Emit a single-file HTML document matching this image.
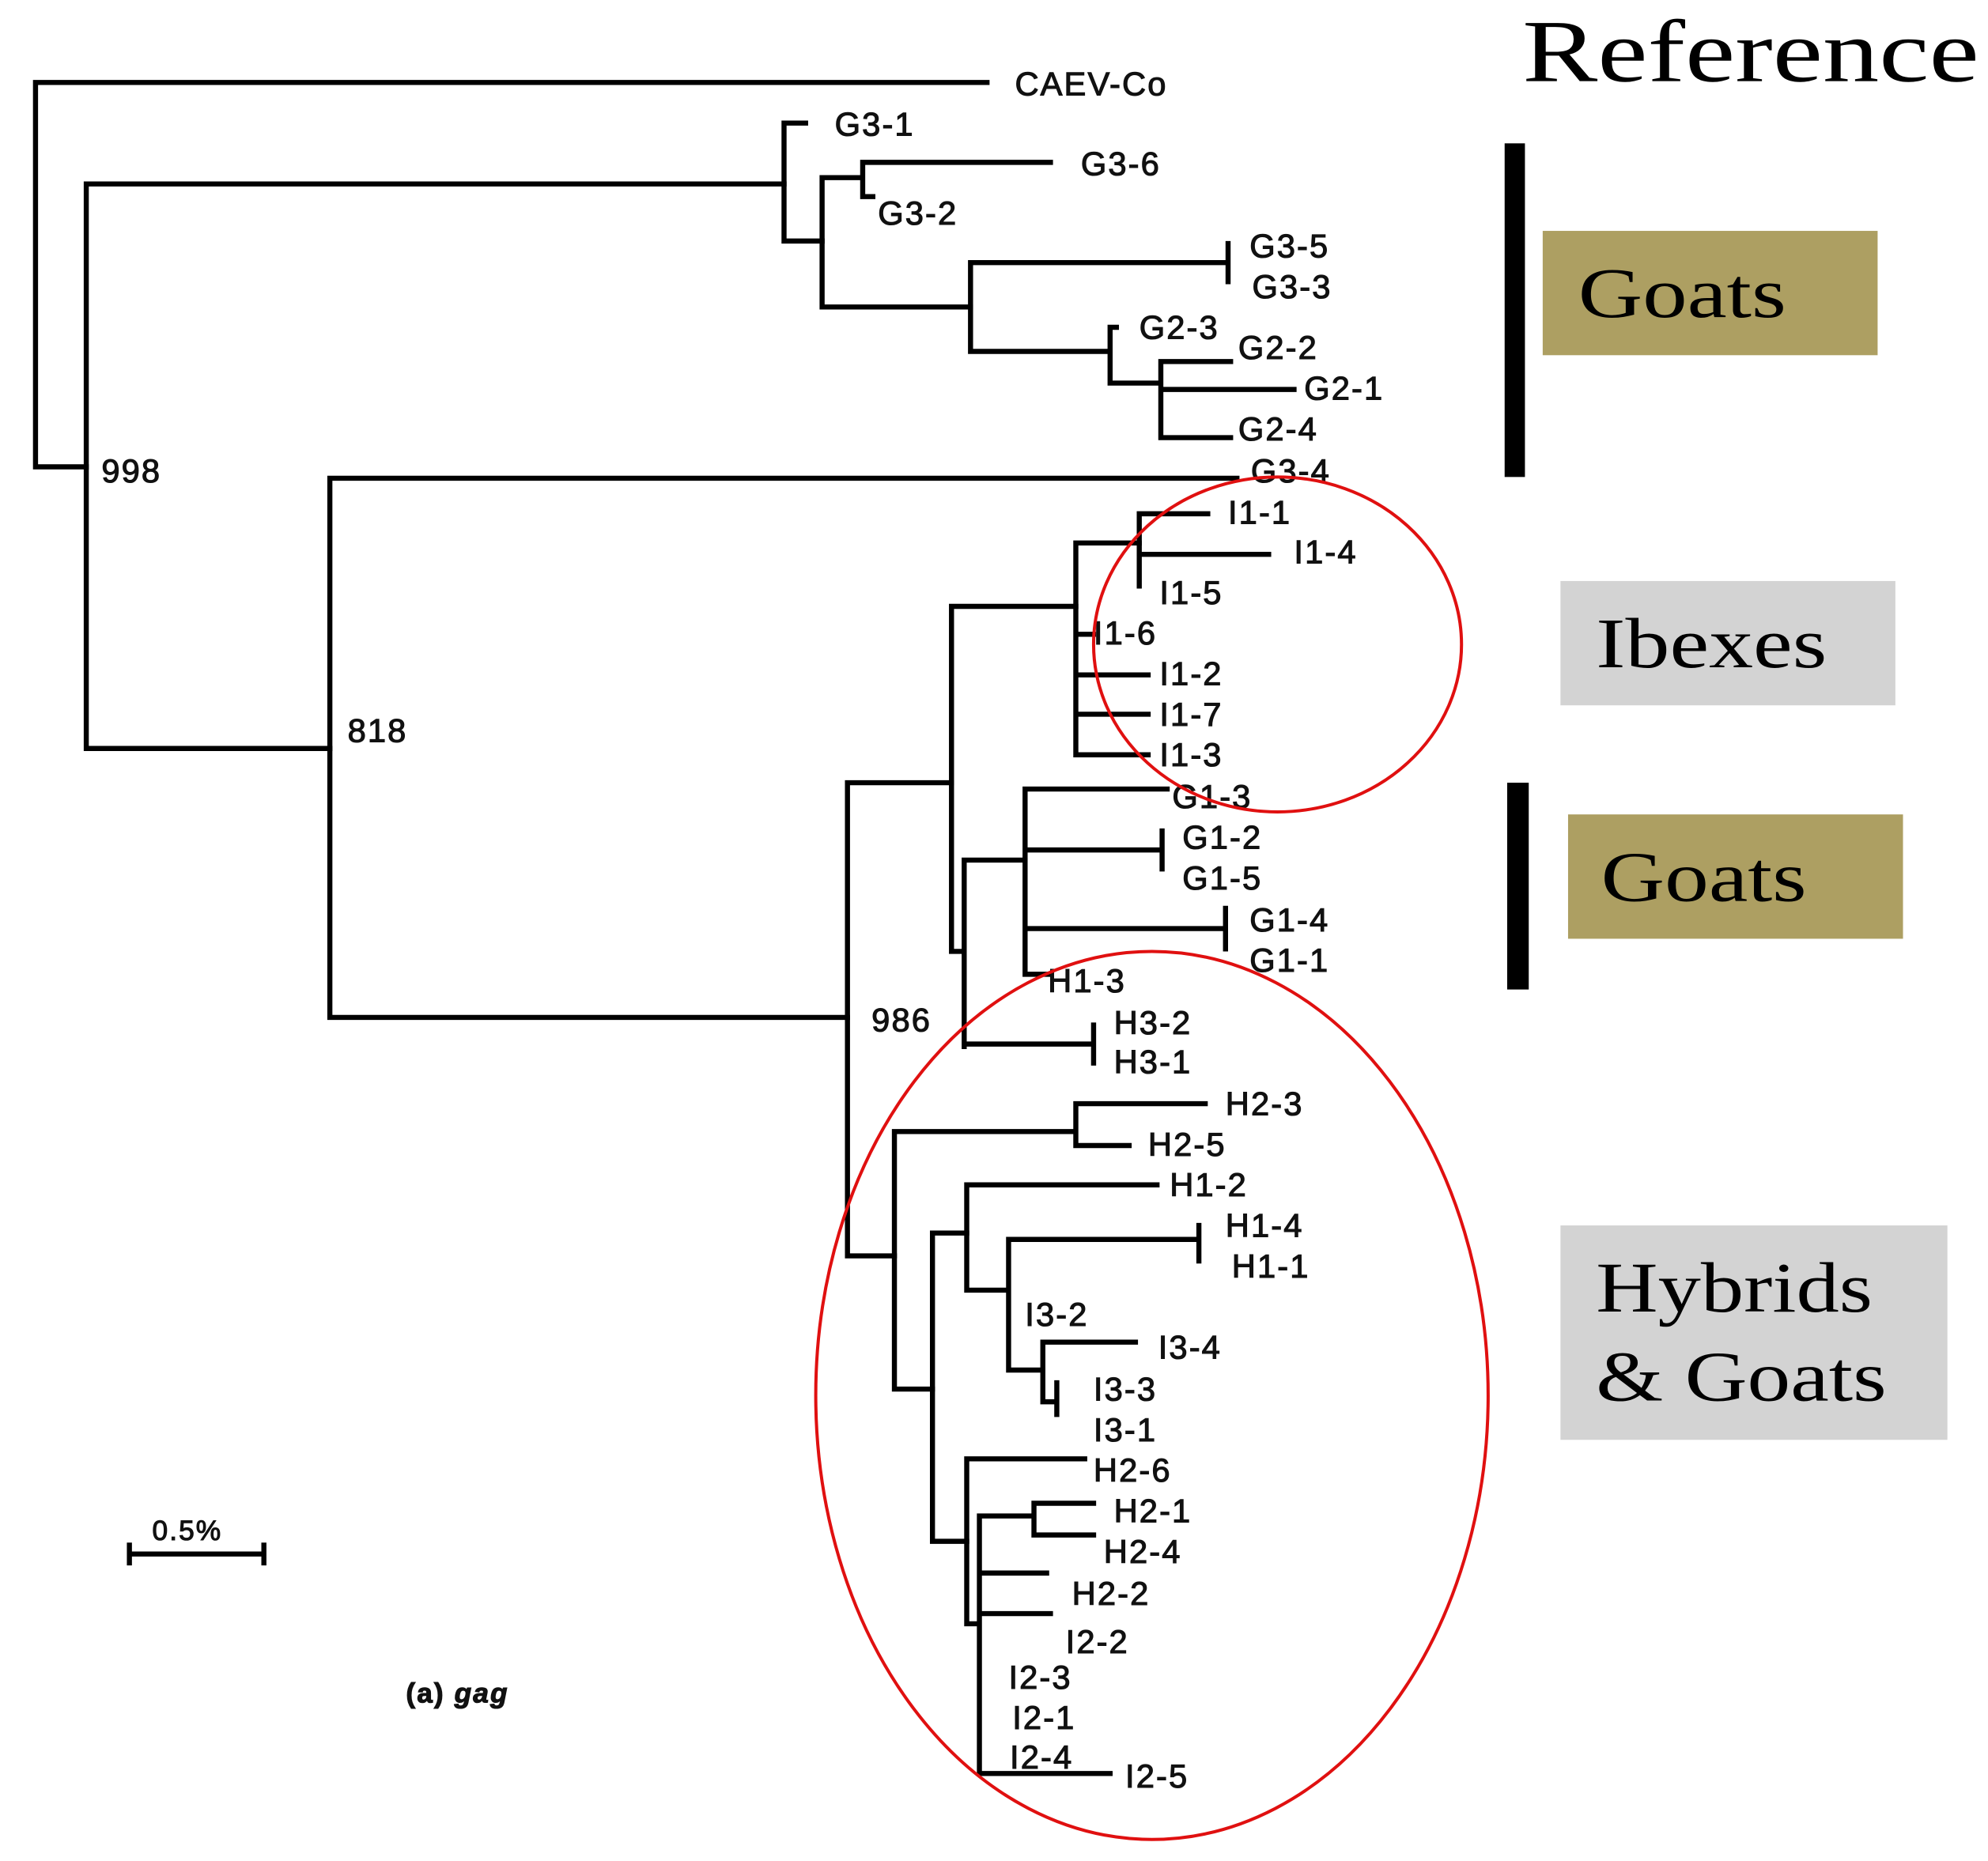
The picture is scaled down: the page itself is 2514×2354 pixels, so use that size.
<!DOCTYPE html>
<html><head><meta charset="utf-8"><style>
html,body{margin:0;padding:0;background:#fff;}
svg{display:block;}
.l{font-family:"Liberation Sans",sans-serif;font-size:26px;letter-spacing:1.3px;fill:#111;stroke:#111;stroke-width:0.7;}
.b{font-family:"Liberation Serif",serif;fill:#000;}
</style></head><body>
<svg width="2514" height="2354" viewBox="0 0 1567 1467" preserveAspectRatio="none" xmlns="http://www.w3.org/2000/svg">
<g stroke="#000" stroke-width="4" fill="none" stroke-linecap="square">
<path d="M28 65V368M28 65H778M28 368H68"/>
<path d="M68 145V590M68 145H618M68 590H260"/>
<path d="M618 97V190M618 97H635M618 190H648"/>
<path d="M648 140V242M648 140H680M680 128V155M680 128H828M680 155H688M648 242H765"/>
<path d="M765 207V277M765 207H968M968 192V222M765 277H875"/>
<path d="M875 258V302M875 258H880M875 302H915M915 285V345M915 285H970M915 307H1020M915 345H970"/>
<path d="M260 377V802M260 377H975M260 802H668"/>
<path d="M668 617V990M668 617H750M668 990H705"/>
<path d="M750 478V750M750 478H848M750 750H760M760 678V825M760 678H808M760 823H862M862 808V838"/>
<path d="M808 622V768M808 622H920M808 670H916M916 655V685M808 732H966M966 716V748M808 768H828"/>
<path d="M848 428V595M848 428H898M848 500H862M848 532H905M848 563H905M848 595H905"/>
<path d="M898 405V462M898 405H952M898 437H1000"/>
<path d="M705 892V1095M705 892H848M848 870V903M848 870H950M848 903H890M705 1095H735"/>
<path d="M735 972V1215M735 972H762M735 1215H762"/>
<path d="M762 934V1017M762 934H912M762 1017H795M795 977V1080M795 977H945M945 966V994M795 1080H822"/>
<path d="M822 1058V1105M822 1058H895M822 1105H833M833 1090V1115"/>
<path d="M762 1150V1280M762 1150H855M762 1280H772M772 1240V1398M772 1195V1240M772 1195H815M815 1185V1210M815 1185H862M815 1210H862M772 1240H825M772 1272H828M772 1398H875"/>
<path d="M102 1225H208M102 1218V1232M208 1218V1232"/>
</g>
<g class="l">
<text x="800" y="75">CAEV-Co</text>
<text x="658" y="107">G3-1</text>
<text x="852" y="138">G3-6</text>
<text x="692" y="177">G3-2</text>
<text x="985" y="203">G3-5</text>
<text x="987" y="235">G3-3</text>
<text x="898" y="267">G2-3</text>
<text x="976" y="283">G2-2</text>
<text x="1028" y="315">G2-1</text>
<text x="976" y="347">G2-4</text>
<text x="986" y="380">G3-4</text>
<text x="80" y="380">998</text>
<text x="274" y="585">818</text>
<text x="687" y="813">986</text>
<text x="968" y="413">I1-1</text>
<text x="1020" y="444">I1-4</text>
<text x="914" y="476">I1-5</text>
<text x="862" y="508">I1-6</text>
<text x="914" y="540">I1-2</text>
<text x="914" y="572">I1-7</text>
<text x="914" y="604">I1-3</text>
<text x="924" y="637">G1-3</text>
<text x="932" y="669">G1-2</text>
<text x="932" y="701">G1-5</text>
<text x="985" y="734">G1-4</text>
<text x="985" y="766">G1-1</text>
<text x="826" y="782">H1-3</text>
<text x="878" y="815">H3-2</text>
<text x="878" y="846">H3-1</text>
<text x="966" y="879">H2-3</text>
<text x="905" y="911">H2-5</text>
<text x="922" y="943">H1-2</text>
<text x="966" y="975">H1-4</text>
<text x="971" y="1007">H1-1</text>
<text x="808" y="1045">I3-2</text>
<text x="913" y="1071">I3-4</text>
<text x="862" y="1104">I3-3</text>
<text x="862" y="1136">I3-1</text>
<text x="862" y="1168">H2-6</text>
<text x="878" y="1200">H2-1</text>
<text x="870" y="1232">H2-4</text>
<text x="845" y="1265">H2-2</text>
<text x="840" y="1303">I2-2</text>
<text x="795" y="1331">I2-3</text>
<text x="798" y="1363">I2-1</text>
<text x="796" y="1394">I2-4</text>
<text x="887" y="1409">I2-5</text>
<text x="120" y="1214" font-size="22">0.5%</text>
<text x="320" y="1342" font-weight="bold" font-size="22">(a) <tspan font-style="italic">gag</tspan></text>
</g>
<text class="b" x="1200" y="64" font-size="70" textLength="360" lengthAdjust="spacingAndGlyphs">Reference</text>
<rect x="1186" y="113" width="16" height="263" fill="#000"/>
<rect x="1216" y="182" width="264" height="98" fill="#ad9f62"/>
<text class="b" x="1244" y="250" font-size="56" textLength="164" lengthAdjust="spacingAndGlyphs">Goats</text>
<rect x="1230" y="458" width="264" height="98" fill="#d3d3d3"/>
<text class="b" x="1258" y="526" font-size="56" textLength="182" lengthAdjust="spacingAndGlyphs">Ibexes</text>
<rect x="1188" y="617" width="17" height="163" fill="#000"/>
<rect x="1236" y="642" width="264" height="98" fill="#ad9f62"/>
<text class="b" x="1262" y="710" font-size="56" textLength="162" lengthAdjust="spacingAndGlyphs">Goats</text>
<rect x="1230" y="966" width="305" height="169" fill="#d3d3d3"/>
<text class="b" x="1258" y="1034" font-size="56" textLength="218" lengthAdjust="spacingAndGlyphs">Hybrids</text>
<text class="b" x="1258" y="1104" font-size="56" textLength="229" lengthAdjust="spacingAndGlyphs">&amp; Goats</text>
<ellipse cx="1007" cy="508" rx="145" ry="132" fill="none" stroke="#e01010" stroke-width="2.5"/>
<ellipse cx="908" cy="1100" rx="265" ry="350" fill="none" stroke="#e01010" stroke-width="2.5"/>
</svg>
</body></html>
